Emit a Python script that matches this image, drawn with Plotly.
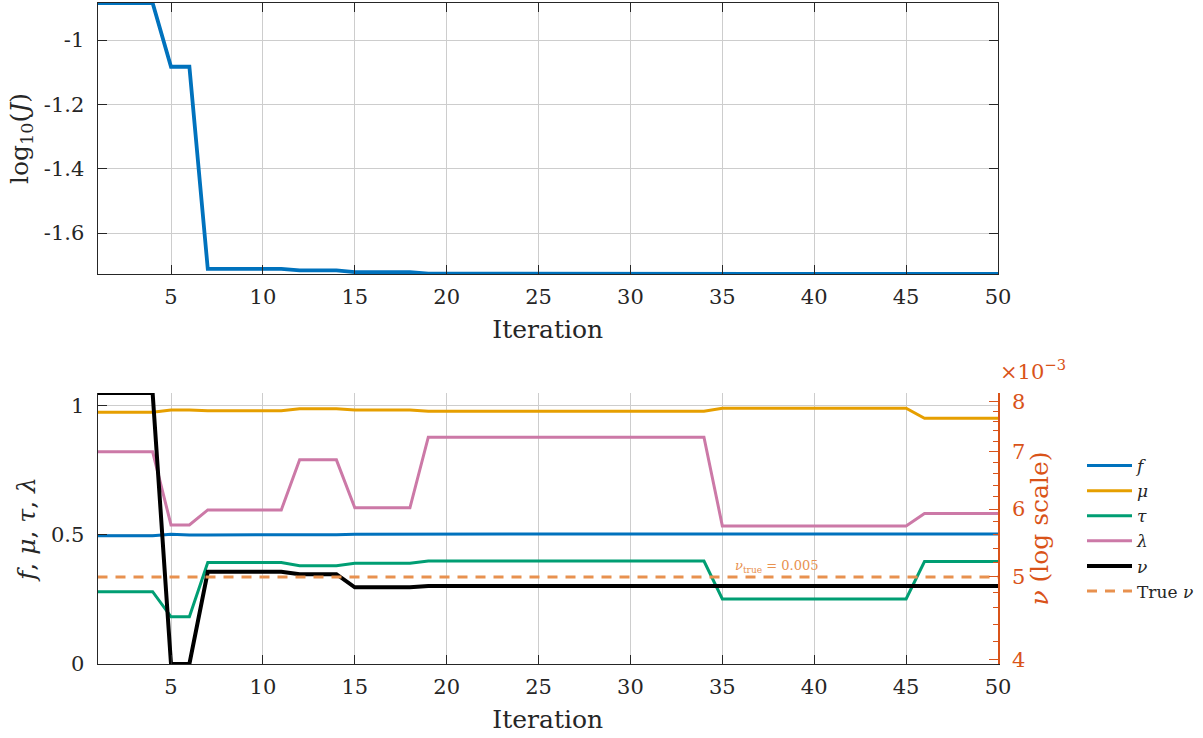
import numpy as np
import plotly.graph_objects as go

# ---------------- data ----------------
iterations = list(range(1, 51))

log10_J = ([-0.885] * 4 + [-1.083] * 2 + [-1.711] * 5 + [-1.716] * 3 +
           [-1.721] * 4 + [-1.726] * 16 + [-1.727] * 16)

f_vals = ([0.497] * 4 + [0.503] + [0.500] * 6 + [0.501] * 3 +
          [0.503] * 4 + [0.504] * 32)
mu_vals = ([0.975] * 4 + [0.984] * 2 + [0.981] * 5 + [0.989] * 3 +
           [0.984] * 4 + [0.979] * 16 + [0.991] * 11 + [0.952] * 5)
tau_vals = ([0.280] * 4 + [0.183] * 2 + [0.393] * 5 + [0.381] * 3 +
            [0.390] * 4 + [0.399] * 16 + [0.252] * 11 + [0.397] * 5)
lam_vals = ([0.822] * 4 + [0.539] * 2 + [0.597] * 5 + [0.791] * 3 +
            [0.605] * 4 + [0.879] * 16 + [0.535] * 11 + [0.583] * 5)
nu_vals = ([8.195e-3] * 4 + [3.957e-3] * 2 + [5.07e-3] * 5 + [5.036e-3] * 3 +
           [4.863e-3] * 4 + [4.88e-3] * 32)
nu_true = 0.005

x_ticks = [5, 10, 15, 20, 25, 30, 35, 40, 45, 50]
top_y_ticks = [-1.6, -1.4, -1.2, -1.0]
top_y_labels = ["-1.6", "-1.4", "-1.2", "-1"]
left_ticks = [0, 0.5, 1]
left_labels = ["0", "0.5", "1"]
nu_ticks = [0.004, 0.005, 0.006, 0.007, 0.008]
nu_labels = ["4", "5", "6", "7", "8"]

# ---------------- style ----------------
FONT = "DejaVu Serif"
AX = "#262626"
GRID = "#cdcdcd"
C_BLUE = "#0072BD"
C_ORANGE = "#E69F00"
C_GREEN = "#009E73"
C_PINK = "#CC79A7"
C_RIGHT = "#D95319"
C_TRUE = "#E8914F"

fig = go.Figure()

fig.add_trace(go.Scatter(x=iterations, y=log10_J, mode="lines",
                         line=dict(color=C_BLUE, width=3.8),
                         xaxis="x", yaxis="y", showlegend=False))

series = [("<i>f</i>", f_vals, C_BLUE), ("<i>μ</i>", mu_vals, C_ORANGE),
          ("<i>τ</i>", tau_vals, C_GREEN), ("<i>λ</i>", lam_vals, C_PINK)]
for name, vals, col in series:
    fig.add_trace(go.Scatter(x=iterations, y=vals, mode="lines", name=name,
                             line=dict(color=col, width=3),
                             xaxis="x2", yaxis="y2"))

fig.add_trace(go.Scatter(x=iterations, y=nu_vals, mode="lines", name="<i>ν</i>",
                         line=dict(color="black", width=4),
                         xaxis="x2", yaxis="y3"))
fig.add_trace(go.Scatter(x=[iterations[0], iterations[-1]], y=[nu_true, nu_true],
                         mode="lines", name="True <i>ν</i>",
                         line=dict(color=C_TRUE, width=3, dash="10px,8px"),
                         xaxis="x2", yaxis="y3"))

XD = [97.5 / 1203, 998 / 1203]
tickfont = dict(family=FONT, size=21, color=AX)
titlefont = dict(family=FONT, size=25, color=AX)

common_x = dict(range=[1, 50], tickvals=x_ticks, ticks="inside", ticklen=9,
                tickcolor=AX, showline=True, linecolor=AX, linewidth=1,
                showgrid=True, gridcolor=GRID, gridwidth=1, zeroline=False,
                tickfont=tickfont, domain=XD, automargin=False,
                ticklabelstandoff=4)

minor_vals = [round(v, 4) for v in np.arange(0.0040, 0.00821, 0.0002)]

fig.update_layout(
    template="none",
    width=1203, height=738, autosize=False,
    margin=dict(l=0, r=0, t=0, b=0),
    paper_bgcolor="white", plot_bgcolor="white",
    font=dict(family=FONT, color=AX, size=17),
    xaxis=dict(common_x, anchor="y", mirror="ticks",
               title=dict(text="Iteration", font=titlefont, standoff=12)),
    yaxis=dict(domain=[1 - 274 / 738, 1 - 3 / 738], range=[-1.727, -0.885],
               tickvals=top_y_ticks, ticktext=top_y_labels, ticks="inside",
               ticklen=9, tickcolor=AX, showline=True, linecolor=AX, mirror="ticks",
               showgrid=True, gridcolor=GRID, zeroline=False, tickfont=tickfont,
               ticklabelstandoff=8, anchor="x", automargin=False,
               title=dict(text="log<sub>10</sub>(<i>J</i>)", font=titlefont, standoff=8)),
    xaxis2=dict(common_x, anchor="y2",
                title=dict(text="Iteration", font=titlefont, standoff=12)),
    yaxis2=dict(domain=[1 - 664 / 738, 1 - 393 / 738], range=[0, 1.05],
                tickvals=left_ticks, ticktext=left_labels, ticks="inside",
                ticklen=9, tickcolor=AX, showline=True, linecolor=AX,
                showgrid=True, gridcolor=GRID, zeroline=False, tickfont=tickfont,
                ticklabelstandoff=8, anchor="x2", automargin=False,
                title=dict(text="<i>f</i>, <i>μ</i>, <i>τ</i>, <i>λ</i>",
                           font=titlefont, standoff=8)),
    yaxis3=dict(overlaying="y2", side="right", anchor="x2", type="log",
                range=[np.log10(3.957e-3), np.log10(8.195e-3)],
                tickvals=nu_ticks, ticktext=nu_labels, ticks="inside", ticklen=9,
                tickcolor=C_RIGHT, showline=True, linecolor=C_RIGHT, linewidth=1.5,
                showgrid=False, zeroline=False, automargin=False,
                tickfont=dict(family=FONT, size=21, color=C_RIGHT),
                ticklabelstandoff=8,
                minor=dict(tickmode="array", tickvals=minor_vals, ticks="inside",
                           ticklen=5, tickcolor=C_RIGHT, showgrid=False),
                title=dict(text="<i>ν</i> (log scale)",
                           font=dict(family=FONT, size=25, color=C_RIGHT), standoff=6)),
    legend=dict(x=1082 / 1203, y=1 - 448 / 738, xanchor="left", yanchor="top",
                font=dict(family=FONT, size=17, color=AX), bgcolor="rgba(0,0,0,0)",
                itemwidth=45, tracegroupgap=0),
    annotations=[
        dict(text="×10<sup>−3</sup>", xref="paper", yref="paper",
             x=998 / 1203, y=1 - 370 / 738, xanchor="left", yanchor="middle",
             showarrow=False, font=dict(family=FONT, size=21, color=C_RIGHT)),
        dict(text="<i>ν</i><sub>true</sub> = 0.005", xref="x2", yref="paper",
             x=38.0, y=1 - 566 / 738, xanchor="center", yanchor="middle",
             showarrow=False, font=dict(family=FONT, size=13, color=C_TRUE)),
    ],
)

fig.write_html("out.html")
